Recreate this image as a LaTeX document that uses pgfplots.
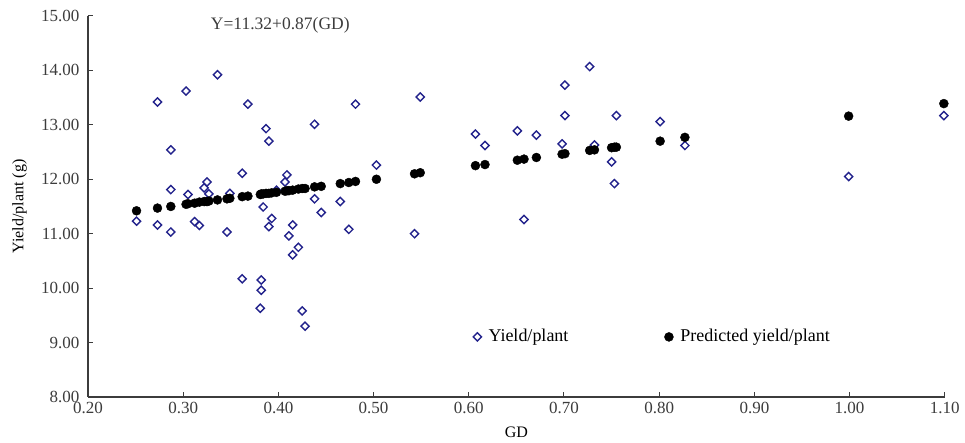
\documentclass[border=0pt]{standalone}
\usepackage{pgfplots}
\pgfplotsset{compat=1.18}
\usepackage{fontspec}
\setmainfont{Liberation Serif}
\definecolor{navy}{RGB}{35,35,140}
\definecolor{axgray}{RGB}{60,60,60}

\begin{document}
\fontsize{16bp}{19bp}\selectfont
\begin{tikzpicture}
\begin{axis}[scale only axis,width=857bp,height=381bp,
  xmin=0.2,xmax=1.1,ymin=8,ymax=15,
  axis lines=left,axis line style={-,axgray,line width=1.3bp},
  xtick={0.2,0.3,0.4,0.5,0.6,0.7,0.8,0.9,1.0,1.1},
  ytick={8,9,10,11,12,13,14,15},
  tick align=inside,major tick length=5bp,
  tick style={axgray,line width=1bp},
  /pgf/number format/.cd,fixed,fixed zerofill,precision=2,assume math mode=true,
  /pgfplots/.cd,
  ticklabel style={font=\fontsize{17bp}{20bp}\selectfont,text=axgray},
  yticklabel style={xshift=-3bp},
  label style={font=\fontsize{16bp}{19bp}\selectfont},
  xlabel={GD},ylabel={Yield/plant (g)},
  xlabel style={at={(axis description cs:0.5,-0.092)},anchor=center},
  ylabel style={at={(axis description cs:-0.08,0.5)},anchor=center},
  clip=false,
  legend columns=2,
  legend style={draw=none,fill=none,font=\fontsize{18bp}{21bp}\selectfont,
    at={(0.446,0.1575)},anchor=west,
    /tikz/every odd column/.append style={column sep=5bp},
    /tikz/every even column/.append style={column sep=94bp}},
  ]
% observed yield per plant
\addplot[only marks,mark=square,mark size=2.9bp,
  mark options={rotate=45,draw=navy,fill=white,line width=1.4bp}] coordinates {
(0.251,11.23) (0.273,13.42) (0.273,11.16) (0.287,12.54) (0.287,11.81)
(0.287,11.03) (0.303,13.62) (0.305,11.72) (0.312,11.22) (0.317,11.15)
(0.322,11.84) (0.325,11.95) (0.327,11.73) (0.336,13.92) (0.346,11.03)
(0.349,11.74) (0.362,12.11) (0.362,10.17) (0.368,13.38) (0.381,9.63)
(0.382,10.15) (0.382,9.96) (0.384,11.49) (0.387,12.93) (0.390,12.70)
(0.390,11.13) (0.393,11.28) (0.398,11.80) (0.407,11.95) (0.409,12.08)
(0.411,10.96) (0.415,11.16) (0.415,10.61) (0.421,10.75) (0.425,9.58)
(0.428,9.30) (0.438,13.01) (0.438,11.64) (0.445,11.39) (0.465,11.59)
(0.474,11.08) (0.481,13.38) (0.503,12.26) (0.543,11.00) (0.549,13.51)
(0.607,12.83) (0.617,12.62) (0.651,12.89) (0.658,11.26) (0.671,12.81)
(0.698,12.65) (0.701,13.73) (0.701,13.17) (0.727,14.07) (0.732,12.63)
(0.750,12.32) (0.753,11.92) (0.755,13.17) (0.801,13.06) (0.827,12.62)
(0.999,12.05) (1.099,13.17)
};
\addlegendentry{Yield/plant}
% predicted yield per plant
\addplot[only marks,mark=*,mark size=4.5bp,mark options={black}] coordinates {
(0.251,11.42) (0.273,11.47) (0.287,11.50) (0.303,11.54) (0.305,11.55)
(0.312,11.56) (0.317,11.58) (0.322,11.59) (0.325,11.59) (0.327,11.60)
(0.336,11.62) (0.346,11.64) (0.349,11.65) (0.362,11.68) (0.368,11.69)
(0.381,11.72) (0.382,11.73) (0.384,11.73) (0.387,11.74) (0.390,11.74)
(0.393,11.75) (0.398,11.76) (0.407,11.78) (0.409,11.79) (0.411,11.79)
(0.415,11.80) (0.421,11.82) (0.425,11.83) (0.428,11.83) (0.438,11.86)
(0.445,11.87) (0.465,11.92) (0.474,11.94) (0.481,11.96) (0.503,12.00)
(0.543,12.10) (0.549,12.12) (0.607,12.25) (0.617,12.27) (0.651,12.35)
(0.658,12.37) (0.671,12.40) (0.698,12.46) (0.701,12.47) (0.727,12.53)
(0.732,12.54) (0.750,12.58) (0.753,12.59) (0.755,12.59) (0.801,12.70)
(0.827,12.77) (0.999,13.16) (1.099,13.39)
};
\addlegendentry{Predicted yield/plant}
\node[anchor=west,inner sep=0pt,text=axgray,font=\fontsize{17.5bp}{20bp}\selectfont]
  at (axis cs:0.329,14.835) {Y=11.32+0.87(GD)};
\end{axis}
\path (current axis.south west) ++(-88bp,-44bp) rectangle ++(965bp,441bp);
\end{tikzpicture}
\end{document}
